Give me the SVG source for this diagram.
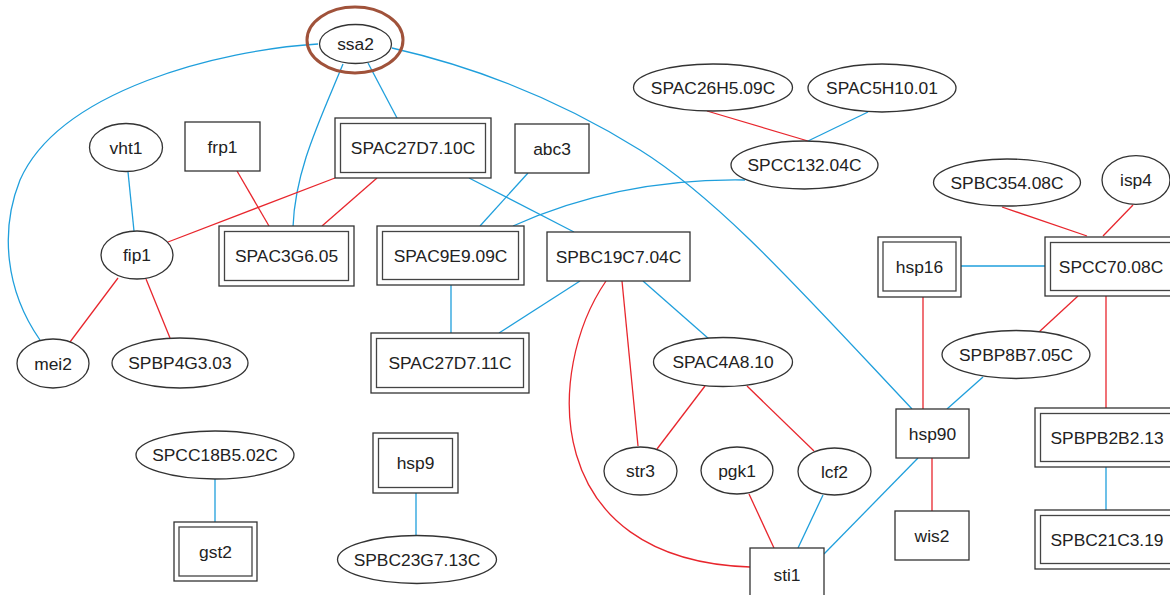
<svg xmlns="http://www.w3.org/2000/svg" width="1170" height="595" viewBox="0 0 1170 595">
<style>
.n{fill:#fff;stroke:#333;stroke-width:1.3}
.d{fill:none;stroke:#444;stroke-width:1.3}
.t{font-family:"Liberation Sans",Arial,sans-serif;font-size:17.4px;fill:#222;text-anchor:middle;dominant-baseline:central}
.b{fill:none;stroke:#1f9fdc;stroke-width:1.3}
.r{fill:none;stroke:#e8262d;stroke-width:1.3}
</style>
<rect width="1170" height="595" fill="#fff"/>
<g id="connectors">
<path class="b" d="M318,44 C220,50 60,90 20,180 C0,230 5,290 40,340"/>
<path class="b" d="M343,64 C320,120 295,170 293,227"/>
<path class="b" d="M368,63 L397,118"/>
<path class="b" d="M392,48 C480,68 560,100 640,150 C720,200 800,290 912,409"/>
<path class="b" d="M128,172 L134,231"/>
<path class="r" d="M237,171 L269,226"/>
<path class="r" d="M335,178 L168,242"/>
<path class="r" d="M377,178 L322,226"/>
<path class="b" d="M469,178 L574,232"/>
<path class="b" d="M528,173 L480,226"/>
<path class="b" d="M745,180 Q620,178 513,226"/>
<path class="r" d="M707,111 L808,141"/>
<path class="b" d="M868,112 L808,141"/>
<path class="r" d="M118,278 L70,342"/>
<path class="r" d="M146,279 L170,338"/>
<path class="b" d="M451,285 L451,333"/>
<path class="b" d="M580,281 L499,333"/>
<path class="b" d="M643,281 L709,339"/>
<path class="r" d="M622,281 L638,446"/>
<path class="r" d="M606,281 C545,370 540,560 750,567"/>
<path class="r" d="M705,386 L657,449"/>
<path class="r" d="M747,386 L814,451"/>
<path class="r" d="M749,494 L774,548"/>
<path class="b" d="M823,495 L798,548"/>
<path class="b" d="M918,458 L824,554"/>
<path class="r" d="M932,458 L932,511"/>
<path class="r" d="M923,297 L923,409"/>
<path class="b" d="M983,377 L947,409"/>
<path class="b" d="M961,266 L1045,266"/>
<path class="r" d="M1078,296 L1039,332"/>
<path class="r" d="M1106,296 L1106,408"/>
<path class="b" d="M1106,467 L1106,510"/>
<path class="r" d="M1002,207 L1087,236"/>
<path class="r" d="M1133,205 L1103,236"/>
<path class="b" d="M215,479 L215,522"/>
<path class="b" d="M416,493 L416,536"/>
</g>
<g id="ssa2"><ellipse cx="355" cy="40" rx="48" ry="33" fill="none" stroke="#a0523a" stroke-width="3"/><ellipse class="n" cx="355.5" cy="44" rx="36" ry="19.5"/><text class="t" x="355.5" y="44">ssa2</text></g>
<g id="vht1"><ellipse class="n" cx="126" cy="147.5" rx="36.5" ry="24"/><text class="t" x="126" y="147.5">vht1</text></g>
<g id="frp1"><rect class="n" x="185" y="122" width="75" height="49"/><text class="t" x="222.5" y="146.5">frp1</text></g>
<g id="SPAC27D7.10C"><rect class="n" x="335" y="118" width="156" height="60"/><rect class="d" x="340.5" y="123.5" width="145" height="49"/><text class="t" x="413" y="148">SPAC27D7.10C</text></g>
<g id="abc3"><rect class="n" x="515" y="124" width="74" height="49"/><text class="t" x="552" y="148.5">abc3</text></g>
<g id="SPAC26H5.09C"><ellipse class="n" cx="713" cy="87.5" rx="79.5" ry="23.5"/><text class="t" x="713" y="87.5">SPAC26H5.09C</text></g>
<g id="SPAC5H10.01"><ellipse class="n" cx="882" cy="88" rx="74" ry="24"/><text class="t" x="882" y="88">SPAC5H10.01</text></g>
<g id="SPCC132.04C"><ellipse class="n" cx="804.5" cy="165" rx="73.5" ry="24"/><text class="t" x="804.5" y="165">SPCC132.04C</text></g>
<g id="SPBC354.08C"><ellipse class="n" cx="1007" cy="182.5" rx="73.5" ry="23.5"/><text class="t" x="1007" y="182.5">SPBC354.08C</text></g>
<g id="isp4"><ellipse class="n" cx="1136" cy="180" rx="34" ry="24.3"/><text class="t" x="1136" y="180">isp4</text></g>
<g id="fip1"><ellipse class="n" cx="137" cy="255" rx="36" ry="24"/><text class="t" x="137" y="255">fip1</text></g>
<g id="SPAC3G6.05"><rect class="n" x="219" y="226" width="135" height="60"/><rect class="d" x="224.5" y="231.5" width="124" height="49"/><text class="t" x="286.5" y="256">SPAC3G6.05</text></g>
<g id="SPAC9E9.09C"><rect class="n" x="377" y="226" width="147" height="59"/><rect class="d" x="382.5" y="231.5" width="136" height="48"/><text class="t" x="450.5" y="255.5">SPAC9E9.09C</text></g>
<g id="SPBC19C7.04C"><rect class="n" x="547" y="232" width="143" height="49"/><text class="t" x="618.5" y="256.5">SPBC19C7.04C</text></g>
<g id="hsp16"><rect class="n" x="878" y="237" width="83" height="60"/><rect class="d" x="883" y="242" width="73" height="49"/><text class="t" x="919.5" y="266.5">hsp16</text></g>
<g id="SPCC70.08C"><rect class="n" x="1045" y="237" width="132" height="59"/><rect class="d" x="1050.5" y="242.5" width="121" height="48"/><text class="t" x="1111" y="266.5">SPCC70.08C</text></g>
<g id="mei2"><ellipse class="n" cx="53" cy="363.5" rx="36" ry="24.5"/><text class="t" x="53" y="363.5">mei2</text></g>
<g id="SPBP4G3.03"><ellipse class="n" cx="180" cy="363" rx="68" ry="25"/><text class="t" x="180" y="363">SPBP4G3.03</text></g>
<g id="SPAC27D7.11C"><rect class="n" x="371" y="333" width="158" height="60"/><rect class="d" x="376.5" y="338.5" width="147" height="49"/><text class="t" x="450" y="363">SPAC27D7.11C</text></g>
<g id="SPAC4A8.10"><ellipse class="n" cx="723" cy="362" rx="69.5" ry="24.5"/><text class="t" x="723" y="362">SPAC4A8.10</text></g>
<g id="SPBP8B7.05C"><ellipse class="n" cx="1016" cy="354.5" rx="74" ry="24"/><text class="t" x="1016" y="354.5">SPBP8B7.05C</text></g>
<g id="hsp90"><rect class="n" x="896" y="409" width="73" height="49"/><text class="t" x="932.5" y="433.5">hsp90</text></g>
<g id="SPBPB2B2.13"><rect class="n" x="1035" y="408" width="143" height="59"/><rect class="d" x="1040.5" y="413.5" width="132" height="48"/><text class="t" x="1107" y="437.5">SPBPB2B2.13</text></g>
<g id="str3"><ellipse class="n" cx="640.5" cy="471" rx="36.5" ry="24"/><text class="t" x="640.5" y="471">str3</text></g>
<g id="pgk1"><ellipse class="n" cx="737" cy="470.5" rx="36" ry="23.5"/><text class="t" x="737" y="470.5">pgk1</text></g>
<g id="lcf2"><ellipse class="n" cx="834.5" cy="471.5" rx="36.5" ry="23.5"/><text class="t" x="834.5" y="471.5">lcf2</text></g>
<g id="SPCC18B5.02C"><ellipse class="n" cx="215" cy="455" rx="79" ry="24"/><text class="t" x="215" y="455">SPCC18B5.02C</text></g>
<g id="hsp9"><rect class="n" x="373" y="433" width="85" height="60"/><rect class="d" x="378.5" y="438.5" width="74" height="49"/><text class="t" x="415.5" y="463">hsp9</text></g>
<g id="gst2"><rect class="n" x="174" y="522" width="83" height="59"/><rect class="d" x="179" y="527" width="73" height="49"/><text class="t" x="215.5" y="551.5">gst2</text></g>
<g id="SPBC23G7.13C"><ellipse class="n" cx="417" cy="559.5" rx="79.5" ry="24"/><text class="t" x="417" y="559.5">SPBC23G7.13C</text></g>
<g id="wis2"><rect class="n" x="895" y="511" width="74" height="49"/><text class="t" x="932" y="535.5">wis2</text></g>
<g id="SPBC21C3.19"><rect class="n" x="1035" y="510" width="143" height="59"/><rect class="d" x="1040.5" y="515.5" width="132" height="48"/><text class="t" x="1107" y="539.5">SPBC21C3.19</text></g>
<g id="sti1"><rect class="n" x="750" y="548" width="74" height="49"/><text class="t" x="787" y="575">sti1</text></g>
</svg>
